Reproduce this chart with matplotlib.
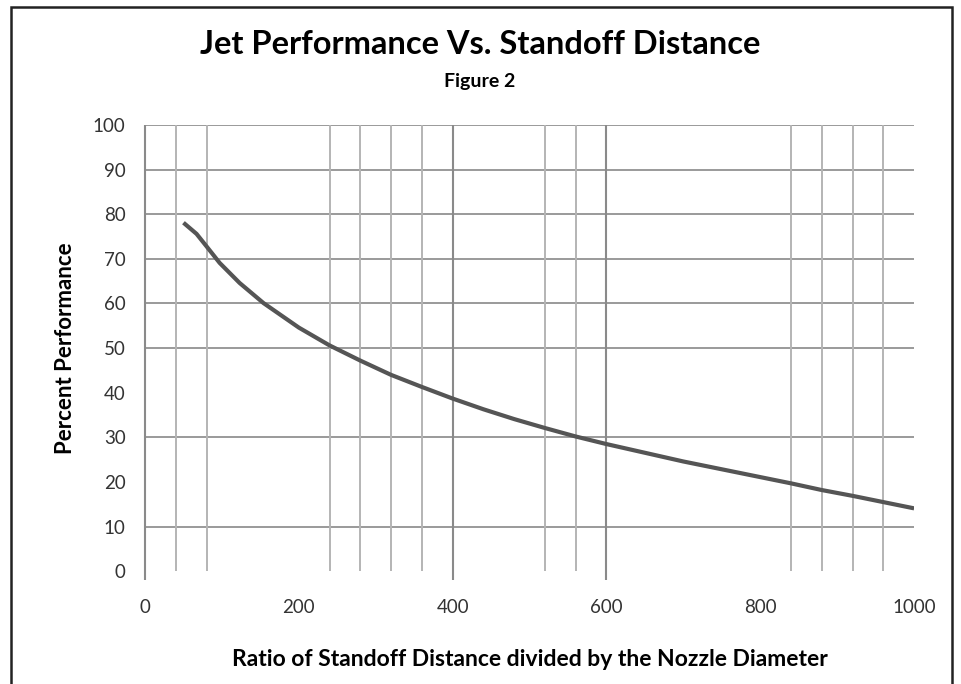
import numpy as np
import matplotlib.pyplot as plt
from matplotlib.patches import Rectangle

# curve values
ratio = [50, 67, 80, 97, 123, 154, 200, 240, 280, 320, 360, 400, 440, 480,
         520, 560, 600, 700, 840, 880, 920, 960, 1000]
performance = [78.1, 75.6, 72.8, 69.1, 64.6, 60.1, 54.6, 50.6, 47.2, 44.0,
               41.3, 38.7, 36.3, 34.1, 32.1, 30.2, 28.5, 24.6, 19.7, 18.2,
               16.9, 15.5, 14.1]

x_ticks = [0, 200, 400, 600, 800, 1000]
y_ticks = [0, 10, 20, 30, 40, 50, 60, 70, 80, 90, 100]
h_grid = [10, 30, 50, 60, 70, 80, 90, 100]
v_grid_major = [0, 400, 600]
v_grid_minor = [40, 80, 240, 280, 320, 360, 520, 560, 840, 880, 920, 960]

plt.rcParams['font.family'] = ['Lato', 'DejaVu Sans']

fig = plt.figure(figsize=(9.61, 6.84), dpi=100)
ax = fig.add_axes([0.1509, 0.1648, 0.8003, 0.6525])

# outer chart frame
fig.patches.append(Rectangle((11 / 961, -0.05), (952 - 11) / 961, 1 - 7 / 684 + 0.05,
                             transform=fig.transFigure, fill=False,
                             edgecolor='#222222', linewidth=1.8))

ax.set_xlim(0, 1000)
ax.set_ylim(0, 100)

ax.hlines(h_grid, 0, 1000, color='#9a9a9a', linewidth=1.4, zorder=1)
ax.vlines(v_grid_minor, 0, 100, color='#b4b4b4', linewidth=1.4, zorder=1)
ax.vlines(v_grid_major, -2.0, 100, color='#8a8a8a', linewidth=1.5, zorder=1,
          clip_on=False)

ax.plot(ratio, performance, color='#555555', linewidth=3.0, zorder=3,
        solid_capstyle='butt', solid_joinstyle='round')

for s in ax.spines.values():
    s.set_visible(False)

ax.set_xticks(x_ticks)
ax.set_yticks(y_ticks)
ax.tick_params(axis='both', length=0, labelsize=13.5, colors='#333333')
ax.tick_params(axis='x', pad=20)
ax.tick_params(axis='y', pad=14)

ax.set_xlabel('Ratio of Standoff Distance divided by the Nozzle Diameter',
              fontsize=16.5, fontweight='bold', labelpad=24)
ax.set_ylabel('Percent Performance', fontsize=16, fontweight='bold',
              labelpad=12)

fig.text(0.5 * (195 + 765) / 961, 1 - 44 / 684,
         'Jet Performance Vs. Standoff Distance',
         ha='center', va='center', fontsize=23.5, fontweight='bold')
fig.text(0.5 * (195 + 765) / 961, 1 - 82 / 684, 'Figure 2',
         ha='center', va='center', fontsize=14, fontweight='bold')

fig.savefig('out.png', dpi=100)
